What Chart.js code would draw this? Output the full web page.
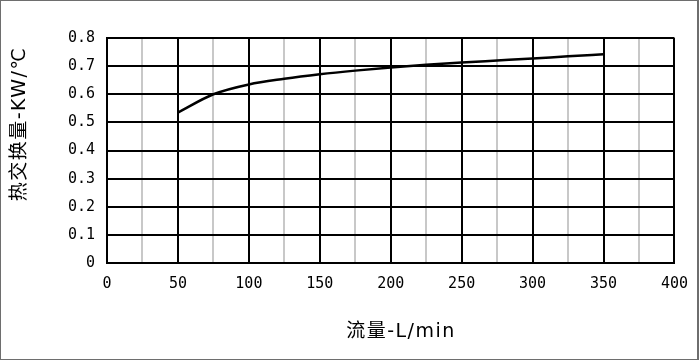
<!DOCTYPE html>
<html>
<head>
<meta charset="utf-8">
<script src="https://cdn.jsdelivr.net/npm/chart.js@4.4.0/dist/chart.umd.min.js"></script>
<style>
    html, body { margin: 0; padding: 0; background: #fff; }
    #wrap { width: 700px; height: 361px; position: relative; }
</style>
</head>
<body>
<div id="wrap"><canvas id="flowChart" width="700" height="361"></canvas></div>
<script>
// 数据
const flowValues = [50, 75, 100, 125, 150, 175, 200, 225, 250, 275, 300, 325, 350];
const heatValues = [0.535, 0.600, 0.635, 0.655, 0.671, 0.684, 0.695, 0.705, 0.713, 0.720, 0.727, 0.735, 0.742];
const xTickLabels = ['0', '', '50', '', '100', '', '150', '', '200', '', '250', '', '300', '', '350', '', '400'];
const yTickLabels = ['0', '0.1', '0.2', '0.3', '0.4', '0.5', '0.6', '0.7', '0.8'];
const xTitle = '流量-L/min';
const yTitle = '热交换量-KW/℃';

const tickFont = { family: '"DejaVu Sans Mono", monospace', size: 15 };
const titleFont = '19px "DejaVu Sans", "Noto Sans CJK SC", sans-serif';

// 外框和坐标轴标题
const framePlugin = {
    id: 'frame',
    beforeDraw: function(chart) {
        const ctx = chart.ctx;
        ctx.save();
        ctx.fillStyle = '#fff';
        ctx.fillRect(0, 0, chart.width, chart.height);
        ctx.fillStyle = '#6e6e6e';
        ctx.fillRect(0, 0, 698, 1);
        ctx.fillRect(0, 0, 1, 360);
        ctx.fillRect(0, 359, 698, 1);
        ctx.fillRect(697, 0, 2, 360);
        ctx.restore();
    },
    afterDraw: function(chart) {
        const ctx = chart.ctx;
        ctx.save();
        ctx.fillStyle = '#000';
        ctx.font = titleFont;
        ctx.letterSpacing = '1.5px';
        ctx.textAlign = 'center';
        ctx.textBaseline = 'middle';
        ctx.fillText(xTitle, 401, 332);
        ctx.translate(20, 124);
        ctx.rotate(-Math.PI / 2);
        ctx.fillText(yTitle, 0, 0);
        ctx.restore();
    }
};

new Chart(document.getElementById('flowChart'), {
    type: 'scatter',
    data: {
        datasets: [{
            data: flowValues.map((x, i) => ({ x: x, y: heatValues[i] })),
            showLine: true,
            borderColor: '#000',
            borderWidth: 2.5,
            pointRadius: 0,
            cubicInterpolationMode: 'monotone',
            fill: false
        }]
    },
    options: {
        responsive: false,
        animation: false,
        layout: { padding: { left: 40, top: 38, right: 24, bottom: 68 } },
        plugins: {
            legend: { display: false },
            tooltip: { enabled: false }
        },
        scales: {
            x: {
                type: 'linear',
                min: 0,
                max: 400,
                afterFit: function(scale) { scale.height = 30; },
                ticks: {
                    stepSize: 25,
                    autoSkip: false,
                    maxRotation: 0,
                    padding: 12,
                    color: '#000',
                    font: tickFont,
                    callback: function(value, index) { return xTickLabels[index]; }
                },
                grid: {
                    drawTicks: false,
                    color: function(c) { return c.index % 2 === 0 ? '#000' : '#c8c8c8'; },
                    lineWidth: function(c) { return c.index % 2 === 0 ? 2 : 2; }
                },
                border: { color: '#000', width: 2 }
            },
            y: {
                min: 0,
                max: 0.8,
                afterFit: function(scale) { scale.width = 67; },
                ticks: {
                    stepSize: 0.1,
                    padding: 12,
                    color: '#000',
                    font: tickFont,
                    callback: function(value, index) { return yTickLabels[index]; }
                },
                grid: { drawTicks: false, color: '#000', lineWidth: 2 },
                border: { color: '#000', width: 2 }
            }
        }
    },
    plugins: [framePlugin]
});
</script>
</body>
</html>
